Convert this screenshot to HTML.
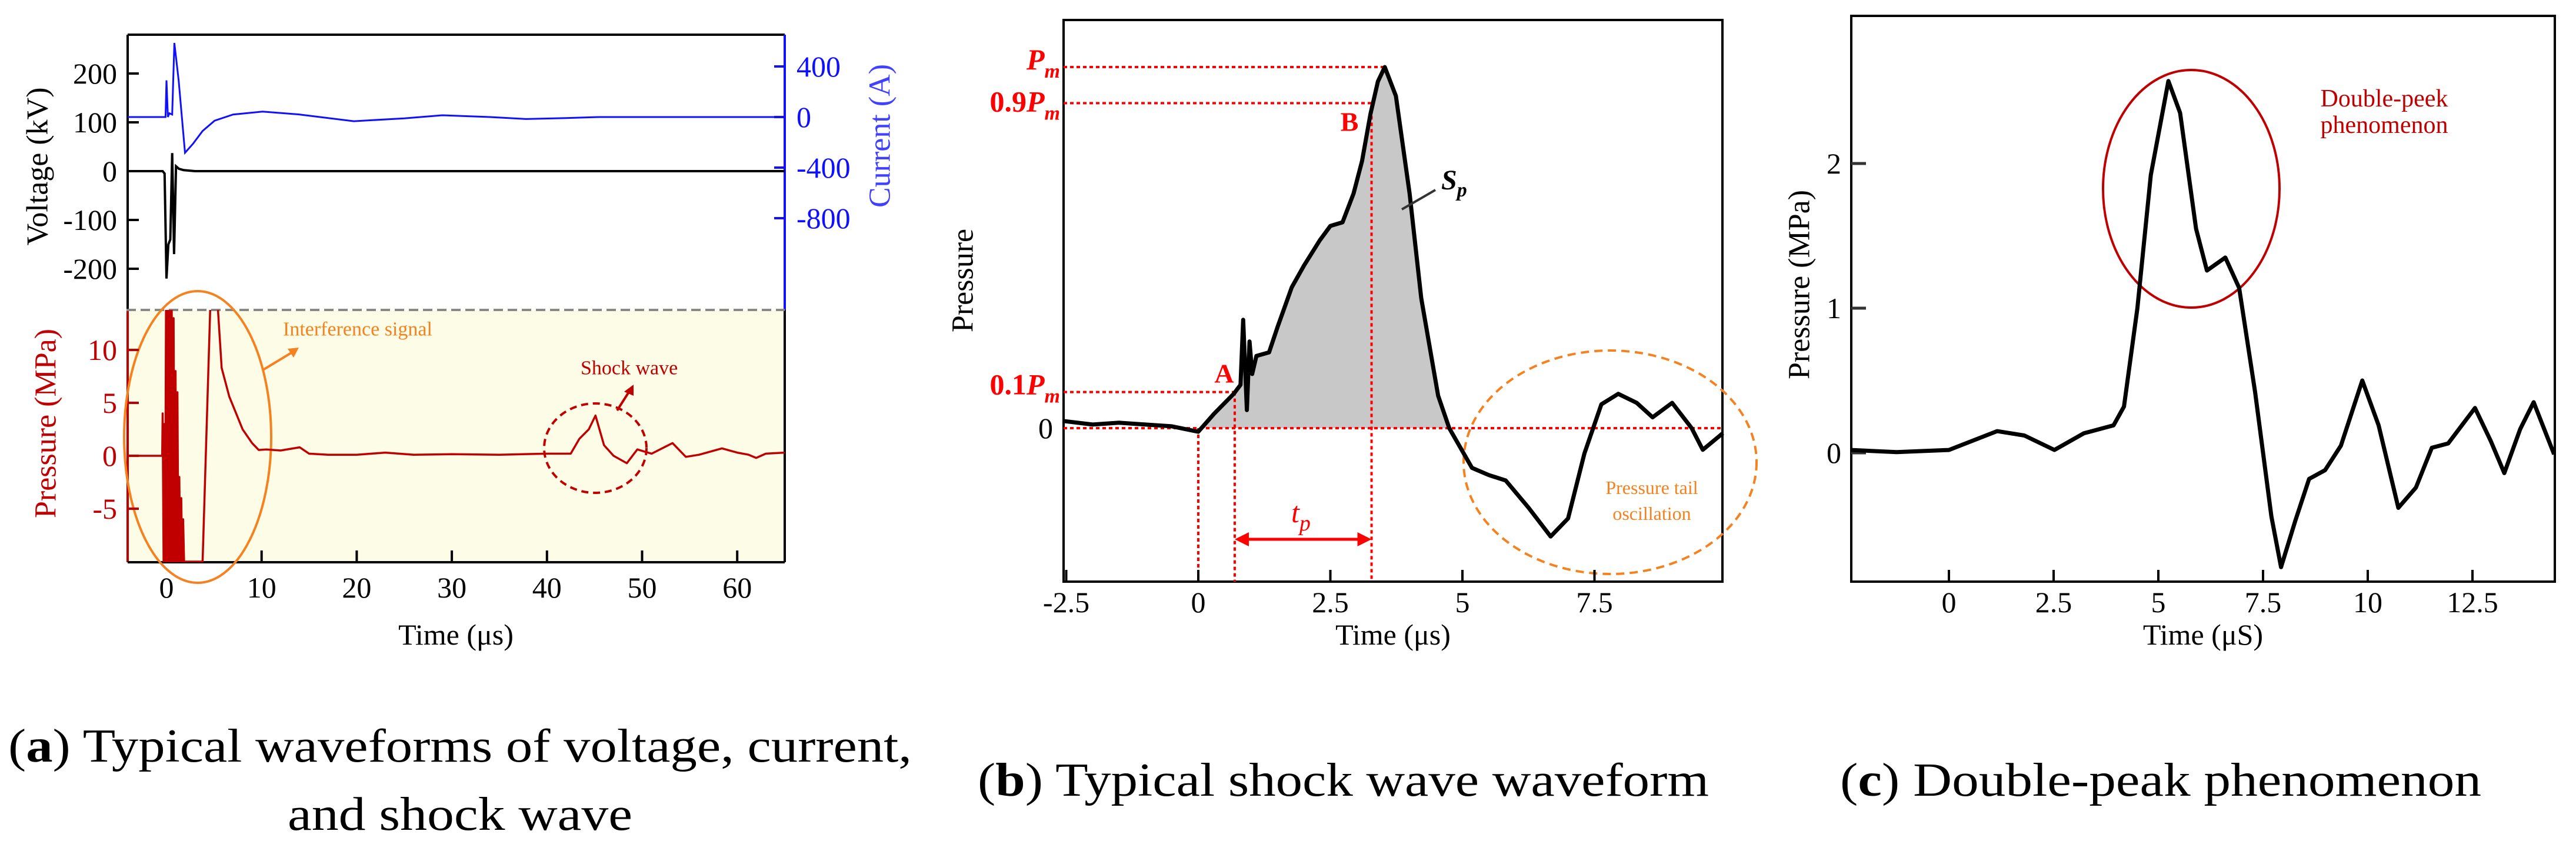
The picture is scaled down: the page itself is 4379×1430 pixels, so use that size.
<!DOCTYPE html>
<html><head><meta charset="utf-8"><style>
html,body{margin:0;padding:0;background:#fff;}
svg{display:block;font-family:"Liberation Serif",serif;}
</style></head><body>
<svg id="fig" width="4379" height="1430" viewBox="0 0 4379 1430" xmlns="http://www.w3.org/2000/svg">
<g id="pa">
  <rect x="217" y="527" width="1117" height="429" fill="#fdfce6"/>
  <line x1="217" y1="59" x2="1334" y2="59" stroke="#000" stroke-width="4"/>
  <line x1="217" y1="59" x2="217" y2="527" stroke="#000" stroke-width="4"/>
  <line x1="217" y1="527" x2="217" y2="956" stroke="#c00000" stroke-width="4"/>
  <line x1="1334" y1="59" x2="1334" y2="527" stroke="#1010ff" stroke-width="4"/>
  <line x1="1334" y1="527" x2="1334" y2="956" stroke="#000" stroke-width="4"/>
  <line x1="217" y1="956" x2="1334" y2="956" stroke="#000" stroke-width="4"/>
  <line x1="215" y1="527" x2="1334" y2="527" stroke="#888" stroke-width="4" stroke-dasharray="16 8"/>
  <text x="64" y="283" transform="rotate(-90 64 283)" text-anchor="middle" dominant-baseline="central" font-size="52">Voltage (kV)</text>
  <text x="78" y="720" transform="rotate(-90 78 720)" text-anchor="middle" dominant-baseline="central" font-size="52" fill="#c00000">Pressure (MPa)</text>
  <text x="1496" y="231" transform="rotate(-90 1496 231)" text-anchor="middle" dominant-baseline="central" font-size="52" fill="#4040ff">Current (A)</text>
  <text x="775" y="1079" text-anchor="middle" dominant-baseline="central" font-size="50">Time (μs)</text>
  <ellipse cx="336" cy="743" rx="125" ry="248" fill="none" stroke="#f58220" stroke-width="4"/>
  <text x="481" y="560" dominant-baseline="central" font-size="34" fill="#f58220">Interference signal</text>
  <line x1="447" y1="629" x2="500" y2="597" stroke="#f58220" stroke-width="4"/>
  <polygon points="508,591 489,593 499,608" fill="#f58220"/>
  <ellipse cx="1012" cy="762" rx="87" ry="76" fill="none" stroke="#c00000" stroke-width="4" stroke-dasharray="12 8"/>
  <text x="987" y="626" dominant-baseline="central" font-size="34" fill="#c00000">Shock wave</text>
  <line x1="1049" y1="698" x2="1070" y2="665" stroke="#c00000" stroke-width="4"/>
  <polygon points="1077,654 1061,666 1077,673" fill="#c00000"/>
</g>
<g id="pb">
  <rect x="1808" y="34" width="1120" height="955" fill="none" stroke="#000" stroke-width="4"/>
  <text x="1637" y="477" transform="rotate(-90 1637 477)" text-anchor="middle" dominant-baseline="central" font-size="52">Pressure</text>
  <text x="2368" y="1079" text-anchor="middle" dominant-baseline="central" font-size="50">Time (μs)</text>
  <ellipse cx="2737" cy="786" rx="249" ry="190" fill="none" stroke="#f58220" stroke-width="4" stroke-dasharray="14 9"/>
  <text x="2808" y="829" text-anchor="middle" dominant-baseline="central" font-size="32" fill="#f58220">Pressure tail</text>
  <text x="2808" y="873" text-anchor="middle" dominant-baseline="central" font-size="32" fill="#f58220">oscillation</text>
</g>
<g id="pc">
  <rect x="3147" y="27" width="1196" height="962" fill="none" stroke="#000" stroke-width="4"/>
  <text x="3059" y="484" transform="rotate(-90 3059 484)" text-anchor="middle" dominant-baseline="central" font-size="52">Pressure (MPa)</text>
  <text x="3745" y="1079" text-anchor="middle" dominant-baseline="central" font-size="50">Time (μS)</text>
  <ellipse cx="3725" cy="321" rx="150" ry="202" fill="none" stroke="#c00000" stroke-width="4"/>
  <text x="4053" y="168" text-anchor="middle" dominant-baseline="central" font-size="42" fill="#c00000">Double-peek</text>
  <text x="4053" y="213" text-anchor="middle" dominant-baseline="central" font-size="42" fill="#c00000">phenomenon</text>
</g>
<g id="caps" font-size="80">
  <text x="14" y="1269" textLength="1536" lengthAdjust="spacingAndGlyphs" dominant-baseline="central">(<tspan font-weight="bold">a</tspan>) Typical waveforms of voltage, current,</text>
  <text x="489" y="1385" textLength="586" lengthAdjust="spacingAndGlyphs" dominant-baseline="central">and shock wave</text>
  <text x="1662" y="1327" textLength="1243" lengthAdjust="spacingAndGlyphs" dominant-baseline="central">(<tspan font-weight="bold">b</tspan>) Typical shock wave waveform</text>
  <text x="3128" y="1327" textLength="1090" lengthAdjust="spacingAndGlyphs" dominant-baseline="central">(<tspan font-weight="bold">c</tspan>) Double-peak phenomenon</text>
</g>
</svg>
<script>
// ---- Panel a data ----
var aTimeTicks = [0,10,20,30,40,50,60];
var aVoltTicks = [200,100,0,-100,-200];
var aCurrTicks = [400,0,-400,-800];
var aPresTicks = [10,5,0,-5];
var curT = [-4.1,-0.1,0,0.15,0.3,0.6,0.83,1.28,1.95,2.8,3.8,5.06,7,10.1,14,19.7,25,29,34,37.8,42,45.5,55,65];
var curV = [0,0,290,0,30,20,586,290,-283,-210,-110,-29,20,43,20,-33,-10,14,0,-16,-8,0,0,0];
var volT = [-4.1,-0.4,-0.2,0.0,0.2,0.4,0.6,0.8,1.0,1.3,1.8,3,65];
var volV = [0,0,-5,-220,-150,-140,37,-170,10,5,2,0,0];
var burstT = [-0.45,-0.4,-0.3,-0.25,-0.15,-0.05,0.05,0.15,0.25,0.35,0.45,0.55,0.65,0.75,0.85,0.95,1.05,1.15,1.25,1.35,1.45,1.55,1.65,1.75,1.85,1.95];
var burstV = [0,4,-10,3,-10,14,-10,14,-10,14,-10,14,-10,13,-10,8,-10,6,-10,-2,-10,-4,-10,-6,-10,-10];
var presT = [3.8,4.6,5.4,5.8,6.6,8.0,9.0,9.7,10.5,12,14,15,17,20,23,26,30,35,40,42.5,43.4,44.4,45.1,46,47,48.4,49.5,51,53.2,54.6,56,58.4,60,61.2,62,63,65];
var presV = [-10,14,14,8.3,5.6,2.5,1.2,0.55,0.6,0.5,0.8,0.2,0.1,0.1,0.3,0.1,0.15,0.1,0.2,0.2,1.6,2.5,3.8,1.0,0.0,-0.7,0.6,0.2,1.2,-0.1,0.1,0.7,0.3,0.1,-0.2,0.2,0.3];
// ---- Panel b data ----
var bTimeTicks = [-2.5,0,2.5,5,7.5];
var bTimeLabels = ["-2.5","0","2.5","5","7.5"];
var bT = [-2.57,-2.0,-1.5,-1.0,-0.5,0,0.3,0.67,0.8,0.85,0.92,0.97,1.02,1.1,1.34,1.5,1.77,2.0,2.3,2.5,2.73,2.94,3.1,3.26,3.4,3.53,3.74,4.0,4.22,4.54,4.75,5.18,5.5,5.82,6.25,6.67,7.0,7.31,7.63,7.95,8.3,8.6,8.97,9.34,9.55,9.93];
var bV = [0.02,0.01,0.015,0.01,0.005,-0.01,0.04,0.095,0.12,0.3,0.05,0.24,0.15,0.2,0.21,0.28,0.39,0.45,0.52,0.56,0.57,0.65,0.74,0.87,0.96,1.0,0.92,0.65,0.36,0.09,0.0,-0.11,-0.13,-0.145,-0.22,-0.30,-0.25,-0.07,0.066,0.095,0.07,0.03,0.07,0.0,-0.06,-0.014];
var bFillStart = 0, bFillEnd = 4.75;
var bLevels = [1.0,0.9,0.1];
var bTA = 0.69, bTB = 3.28, bTPeak = 3.53;
// ---- Panel c data ----
var cTimeTicks = [0,2.5,5,7.5,10,12.5];
var cTimeLabels = ["0","2.5","5","7.5","10","12.5"];
var cPresTicks = [0,1,2];
var cT = [-2.33,-1.25,0,1.15,1.8,2.52,3.22,3.93,4.18,4.5,4.82,5.24,5.52,5.9,6.16,6.6,6.93,7.31,7.7,7.93,8.27,8.6,8.98,9.36,9.87,10.26,10.73,11.15,11.53,11.92,12.56,12.94,13.26,13.64,13.96,14.45];
var cV = [0.02,0.005,0.02,0.15,0.12,0.02,0.135,0.19,0.32,1.0,1.92,2.57,2.35,1.55,1.26,1.35,1.14,0.42,-0.44,-0.79,-0.47,-0.18,-0.12,0.05,0.5,0.19,-0.38,-0.24,0.035,0.065,0.31,0.08,-0.14,0.165,0.35,-0.01];

var NS = "http://www.w3.org/2000/svg";
function mk(tag, attrs, parent){ var e=document.createElementNS(NS,tag); for(var k in attrs) e.setAttribute(k,attrs[k]); parent.appendChild(e); return e; }
function pathD(T,V,fx,fy){ var d=""; for(var i=0;i<T.length;i++){ d+=(i?"L":"M")+fx(T[i]).toFixed(1)+","+fy(V[i]).toFixed(1);} return d; }

// axis functions
function xa(t){return 283+16.17*t;}
function yVolt(v){return 291-0.83*v;}
function yCurr(i){return 199-0.215*i;}
function yPres(p){return 775-18*p;}
function xb(t){return 2037+89.8*t;}
function yb(v){return 728-614*v;}
function xc(t){return 3313+71.2*t;}
function yc(v){return 770-246*v;}

var pa=document.getElementById('pa'), pb=document.getElementById('pb'), pc=document.getElementById('pc');
var defs=mk('defs',{},document.getElementById('fig'));
var cp=mk('clipPath',{id:'clipP'},defs); mk('rect',{x:217,y:527,width:1117,height:429},cp);
var cpU=mk('clipPath',{id:'clipU'},defs); mk('rect',{x:217,y:59,width:1117,height:468},cpU);

// panel a ticks
aTimeTicks.forEach(function(t){
  var l=mk('line',{x1:xa(t),y1:956,x2:xa(t),y2:936,stroke:'#000','stroke-width':4},pa);
  
  
  var s=mk('text',{x:xa(t),y:999,'text-anchor':'middle','dominant-baseline':'central','font-size':50},pa); s.textContent=t;
  
  
});
aVoltTicks.forEach(function(v){
  var l=mk('line',{x1:217,y1:yVolt(v),x2:236,y2:yVolt(v),stroke:'#000','stroke-width':4},pa);
  
  
  var s=mk('text',{x:199,y:yVolt(v),'text-anchor':'end','dominant-baseline':'central','font-size':50},pa); s.textContent=v;
  
  
});
aCurrTicks.forEach(function(v){
  var l=mk('line',{x1:1316,y1:yCurr(v),x2:1334,y2:yCurr(v),stroke:'#1010ff','stroke-width':4},pa);
  
  
  var s=mk('text',{x:1354,y:yCurr(v),'dominant-baseline':'central','font-size':50,fill:'#1010ff'},pa); s.textContent=v;
  
  
});
aPresTicks.forEach(function(v){
  var l=mk('line',{x1:217,y1:yPres(v),x2:236,y2:yPres(v),stroke:'#c00000','stroke-width':4},pa);
  
  
  var s=mk('text',{x:199,y:yPres(v),'text-anchor':'end','dominant-baseline':'central','font-size':50,fill:'#c00000'},pa); s.textContent=v;
  
  
});
var cur=mk('path',{d:pathD(curT,curV,xa,yCurr),fill:'none',stroke:'#1010ff','stroke-width':3,'clip-path':'url(#clipU)'},pa);


var vol=mk('path',{d:pathD(volT,volV,xa,yVolt),fill:'none',stroke:'#000','stroke-width':4,'clip-path':'url(#clipU)'},pa);


var pT=[-4.1].concat(burstT,presT), pV=[0].concat(burstV,presV);
var pr=mk('path',{d:pathD(pT,pV,xa,yPres),fill:'none',stroke:'#c00000','stroke-width':3.5,'stroke-linejoin':'round','clip-path':'url(#clipP)'},pa);



// panel b
var fT=[],fV=[];
for(var i=0;i<bT.length;i++){ if(bT[i]>=bFillStart && bT[i]<=bFillEnd){fT.push(bT[i]);fV.push(Math.max(0,bV[i]));} }
var fd=pathD(fT,fV,xb,yb)+"L"+xb(bFillEnd)+","+yb(0)+"L"+xb(bFillStart)+","+yb(0)+"Z";
var fill=mk('path',{d:fd,fill:'#c8c8c8'},pb);


var red='#ff0000';
function dl(x1,y1,x2,y2,name){ var l=mk('line',{x1:x1,y1:y1,x2:x2,y2:y2,stroke:red,'stroke-width':4,'stroke-dasharray':'6 5'},pb);
  
   }
dl(1808,yb(0),2928,yb(0),'zero-reference-line');
dl(1808,yb(bLevels[0]),xb(bTPeak),yb(bLevels[0]),'pm-level-line');
dl(1808,yb(bLevels[1]),xb(bTB),yb(bLevels[1]),'09pm-level-line');
dl(1808,yb(bLevels[2]),xb(bTA),yb(bLevels[2]),'01pm-level-line');
dl(xb(0),yb(0),xb(0),989,'start-vertical-line');
dl(xb(bTA),yb(bLevels[2]),xb(bTA),989,'point-a-vertical-line');
dl(xb(bTB),yb(bLevels[1]),xb(bTB),989,'point-b-vertical-line');
var bl=mk('path',{d:pathD(bT,bV,xb,yb),fill:'none',stroke:'#000','stroke-width':7,'stroke-linejoin':'round'},pb);


bTimeTicks.forEach(function(t,i){
  var l=mk('line',{x1:xb(t),y1:989,x2:xb(t),y2:969,stroke:'#000','stroke-width':4},pb);
  
  
  var s=mk('text',{x:xb(t),y:1024,'text-anchor':'middle','dominant-baseline':'central','font-size':50},pb); s.textContent=bTimeLabels[i];
  
  
});
// level labels
function lvl(y,pre,name){ var s=mk('text',{x:1802,y:y,'text-anchor':'end','font-size':50,fill:red,'font-weight':'bold'},pb);
  
  
  s.innerHTML=pre+'<tspan font-style="italic">P</tspan><tspan font-style="italic" font-size="34" dy="14">m</tspan>'; }
lvl(yb(1)+4,'','pm-label');
lvl(yb(0.9)+14,'0.9','09pm-label');
lvl(yb(0.1)+4,'0.1','01pm-label');
var z=mk('text',{x:1790,y:yb(0),'text-anchor':'end','dominant-baseline':'central','font-size':50},pb); z.textContent='0';


var ta=mk('text',{x:2081,y:635,'text-anchor':'middle','dominant-baseline':'central','font-size':46,fill:red,'font-weight':'bold'},pb); ta.textContent='A';


var tb=mk('text',{x:2294,y:207,'text-anchor':'middle','dominant-baseline':'central','font-size':46,fill:red,'font-weight':'bold'},pb); tb.textContent='B';


var sl=mk('line',{x1:2383,y1:356,x2:2440,y2:323,stroke:'#333','stroke-width':4},pb);


var sp=mk('text',{x:2450,y:322,'font-size':48,'font-style':'italic','font-weight':'bold'},pb); sp.innerHTML='S<tspan font-size="34" dy="12">p</tspan>';


var yA=917;
var ar=mk('line',{x1:xb(bTA)+20,y1:yA,x2:xb(bTB)-20,y2:yA,stroke:red,'stroke-width':5},pb);


var h1=mk('polygon',{points:xb(bTA)+','+yA+' '+(xb(bTA)+24)+','+(yA-12)+' '+(xb(bTA)+24)+','+(yA+12),fill:red},pb);


var h2=mk('polygon',{points:xb(bTB)+','+yA+' '+(xb(bTB)-24)+','+(yA-12)+' '+(xb(bTB)-24)+','+(yA+12),fill:red},pb);


var tp=mk('text',{x:2195,y:888,'font-size':50,'font-style':'italic',fill:red},pb); tp.innerHTML='t<tspan font-size="38" dy="14">p</tspan>';



// panel c
cTimeTicks.forEach(function(t,i){
  var l=mk('line',{x1:xc(t),y1:989,x2:xc(t),y2:969,stroke:'#000','stroke-width':4},pc);
  
  
  var s=mk('text',{x:xc(t),y:1024,'text-anchor':'middle','dominant-baseline':'central','font-size':50},pc); s.textContent=cTimeLabels[i];
  
  
});
cPresTicks.forEach(function(v){
  var l=mk('line',{x1:3147,y1:yc(v),x2:3172,y2:yc(v),stroke:'#333','stroke-width':5},pc);
  
  
  var s=mk('text',{x:3130,y:yc(v),'text-anchor':'end','dominant-baseline':'central','font-size':50},pc); s.textContent=v;
  
  
});
var cl=mk('path',{d:pathD(cT,cV,xc,yc),fill:'none',stroke:'#000','stroke-width':7,'stroke-linejoin':'round'},pc);


</script>
</body></html>
